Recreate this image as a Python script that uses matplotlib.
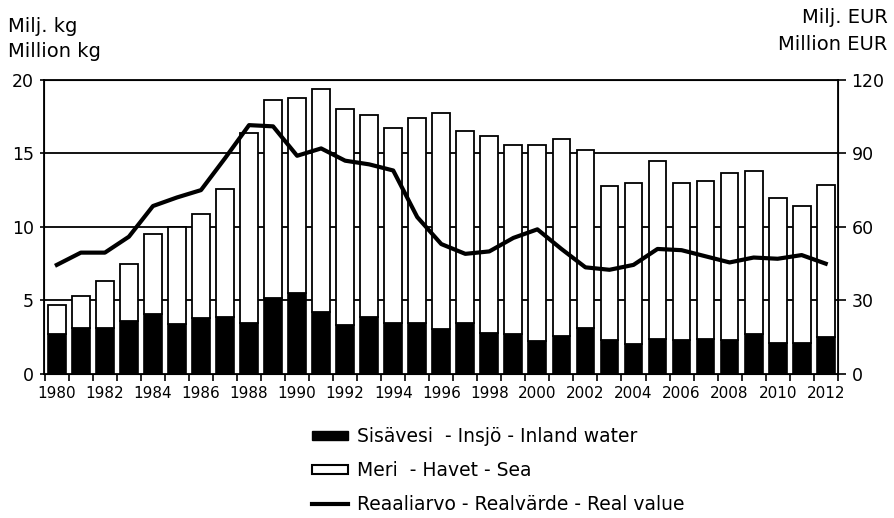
import numpy as np
import matplotlib
matplotlib.use("Agg")
from matplotlib import pyplot as plt
from matplotlib.patches import Patch
from matplotlib.lines import Line2D

plt.rcParams['font.family'] = ['DejaVu Sans']

years = list(range(1980, 2013))

# Million kg, inland water catch
inland = [2.75, 3.1, 3.1, 3.6, 4.1, 3.4, 3.8, 3.9, 3.5, 5.15,
          5.5, 4.2, 3.3, 3.9, 3.45, 3.45, 3.05, 3.45, 2.8, 2.7,
          2.25, 2.6, 3.15, 2.3, 2.05, 2.4, 2.3, 2.4, 2.3, 2.7,
          2.1, 2.1, 2.5]
# Million kg, total catch (inland + sea)
total = [4.7, 5.3, 6.3, 7.5, 9.5, 10.0, 10.9, 12.6, 16.35, 18.65,
         18.75, 19.35, 18.0, 17.6, 16.75, 17.4, 17.75, 16.5, 16.15, 15.55,
         15.55, 15.95, 15.2, 12.75, 13.0, 14.5, 13.0, 13.15, 13.65, 13.8,
         11.95, 11.45, 12.85]
sea = [t - i for t, i in zip(total, inland)]
# Million EUR, real value
real_value = [44.5, 49.5, 49.5, 56, 68.5, 72, 75, 88, 101.5, 101,
              89, 92, 87, 85.5, 83, 64, 53, 49, 50, 55.5,
              59, 51, 43.5, 42.5, 44.5, 51, 50.5, 48, 45.5, 47.5,
              47, 48.5, 45]

fig = plt.figure(figsize=(8.95, 5.18), dpi=100)
ax = fig.add_axes([0.049, 0.278, 0.887, 0.568])

# horizontal grid lines behind bars
for g in [5, 10, 15]:
    ax.axhline(g, color='black', lw=1.3, zorder=0)

ax.bar(years, inland, width=0.74, color='black', edgecolor='black', lw=1.2, zorder=2)
ax.bar(years, sea, width=0.74, bottom=inland, color='white', edgecolor='black', lw=1.3, zorder=2)

ax.set_xlim(1979.46, 2012.42)
ax.set_ylim(0, 20)
ax.set_yticks([0, 5, 10, 15, 20])
ax.tick_params(axis='y', length=3, width=1.2, labelsize=12.5, pad=4)

ax.set_xticks(np.arange(1979.5, 2013, 1))
ax.set_xticklabels([])
ax.set_xticks(range(1980, 2013, 2), minor=True)
ax.set_xticklabels([str(y) for y in range(1980, 2013, 2)], minor=True)
ax.tick_params(axis='x', which='major', length=5, width=1.2, direction='out')
ax.tick_params(axis='x', which='minor', length=0, labelsize=11, pad=9)

for s in ax.spines.values():
    s.set_linewidth(1.3)

ax2 = ax.twinx()
ax2.plot(years, real_value, color='black', lw=3, solid_joinstyle='round', zorder=3)
ax2.set_ylim(0, 120)
ax2.set_yticks([0, 30, 60, 90, 120])
ax2.tick_params(axis='y', length=6, width=1.2, labelsize=12.5, pad=4)

fig.text(0.009, 0.938, 'Milj. kg', fontsize=14, va='baseline', ha='left')
fig.text(0.009, 0.890, 'Million kg', fontsize=14, va='baseline', ha='left')
fig.text(0.992, 0.956, 'Milj. EUR', fontsize=14, va='baseline', ha='right')
fig.text(0.992, 0.904, 'Million EUR', fontsize=14, va='baseline', ha='right')

handles = [
    Patch(facecolor='black', edgecolor='black'),
    Patch(facecolor='white', edgecolor='black', lw=1.5),
    Line2D([0], [0], color='black', lw=3),
]
labels = ['Sisävesi  - Insjö - Inland water',
          'Meri  - Havet - Sea',
          'Reaaliarvo - Realvärde - Real value']
fig.legend(handles, labels, loc='upper left', bbox_to_anchor=(0.349, 0.176),
           frameon=False, fontsize=13.5, handlelength=1.92, handleheight=0.37,
           handletextpad=0.48, labelspacing=0.8, borderaxespad=0, borderpad=0)

fig.savefig('out.png', dpi=100)
